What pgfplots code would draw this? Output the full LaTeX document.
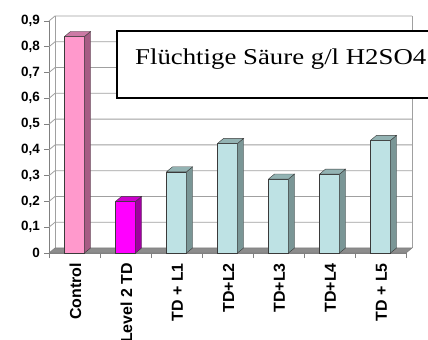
\documentclass[border=0pt]{standalone}
\usepackage{pgfplots}
\pgfplotsset{compat=1.18}
\usepackage{fontspec}
\setmainfont{Liberation Sans}
\newfontfamily\titlefont{Liberation Serif}
\definecolor{gridc}{HTML}{A0A0A0}
\definecolor{axisc}{HTML}{808080}
\definecolor{edgec}{HTML}{3A3A3A}
\definecolor{floorc}{HTML}{8C8C8C}
\definecolor{pinkF}{HTML}{FF99CC}
\definecolor{pinkS}{HTML}{A65C84}
\definecolor{pinkT}{HTML}{CC7AA5}
\definecolor{magF}{HTML}{FF00FF}
\definecolor{magS}{HTML}{A000A0}
\definecolor{magT}{HTML}{CC00CC}
\definecolor{cyF}{HTML}{BEE2E4}
\definecolor{cyS}{HTML}{7A9696}
\definecolor{cyT}{HTML}{93B3B3}
\begin{document}
\begin{tikzpicture}
\begin{axis}[
  at={(49bp,87bp)}, anchor=south west,
  scale only axis, width=357bp, height=232bp,
  xmin=-0.5, xmax=6.5, ymin=0, ymax=0.9,
  clip=false,
  axis lines*=left,
  axis line style={draw=axisc, line width=0.8bp},
  tick style={draw=axisc, line width=0.8bp},
  tick align=outside, major tick length=5bp,
  xtick={-0.5,0.5,1.5,2.5,3.5,4.5,5.5,6.5}, x tick label as interval,
  xticklabels={Control,Level 2 TD,TD + L1,TD+L2,TD+L3,TD+L4,TD + L5},
  xticklabel style={rotate=90, anchor=east, font=\bfseries\fontsize{16}{17}\selectfont, inner sep=0pt, yshift=-1bp, xshift=-5bp},
  ytick={0,0.1,0.2,0.3,0.4,0.5,0.6,0.7,0.8,0.9},
  yticklabels={0,{0,1},{0,2},{0,3},{0,4},{0,5},{0,6},{0,7},{0,8},{0,9}},
  yticklabel style={font=\bfseries\fontsize{13.5}{14}\selectfont, anchor=east, inner sep=0pt, xshift=-4bp},
]
% back wall borders
\addplot[gridc, line width=0.8bp] coordinates {(-0.382,0.0194)(-0.382,0.9194)};
\addplot[gridc, line width=0.8bp] coordinates {(6.618,0.0194)(6.618,0.9194)};
% gridlines (left wall slant + back wall)
\addplot[gridc, line width=0.8bp, unbounded coords=jump] coordinates {
(-0.5,0.1)(-0.382,0.1194)(6.618,0.1194)(6.618,nan)
(-0.5,0.2)(-0.382,0.2194)(6.618,0.2194)(6.618,nan)
(-0.5,0.3)(-0.382,0.3194)(6.618,0.3194)(6.618,nan)
(-0.5,0.4)(-0.382,0.4194)(6.618,0.4194)(6.618,nan)
(-0.5,0.5)(-0.382,0.5194)(6.618,0.5194)(6.618,nan)
(-0.5,0.6)(-0.382,0.6194)(6.618,0.6194)(6.618,nan)
(-0.5,0.7)(-0.382,0.7194)(6.618,0.7194)(6.618,nan)
(-0.5,0.8)(-0.382,0.8194)(6.618,0.8194)(6.618,nan)
(-0.5,0.9)(-0.382,0.9194)(6.618,0.9194)};
% floor
\addplot[fill=floorc, draw=axisc, line width=0.6bp] coordinates {(-0.5,0)(6.5,0)(6.618,0.0194)(-0.382,0.0194)(-0.5,0)};
% bars: front faces
\addplot[ybar, bar width=0.392, bar shift=0pt, fill=pinkF, draw=edgec, line width=0.4bp] coordinates {(0,0.84)};
\addplot[ybar, bar width=0.392, bar shift=0pt, fill=magF, draw=edgec, line width=0.4bp] coordinates {(1,0.20)};
\addplot[ybar, bar width=0.392, bar shift=0pt, fill=cyF, draw=edgec, line width=0.4bp] coordinates {(2,0.315)(3,0.425)(4,0.287)(5,0.306)(6,0.437)};
% side faces
\addplot[fill=pinkS, draw=edgec, line width=0.4bp] coordinates {(0.196,0)(0.314,0.0194)(0.314,0.8594)(0.196,0.84)(0.196,0)};
\addplot[fill=magS, draw=edgec, line width=0.4bp] coordinates {(1.196,0)(1.314,0.0194)(1.314,0.2194)(1.196,0.2)(1.196,0)};
\addplot[fill=cyS, draw=edgec, line width=0.4bp] coordinates {(2.196,0)(2.314,0.0194)(2.314,0.3344)(2.196,0.315)(2.196,0)};
\addplot[fill=cyS, draw=edgec, line width=0.4bp] coordinates {(3.196,0)(3.314,0.0194)(3.314,0.4444)(3.196,0.425)(3.196,0)};
\addplot[fill=cyS, draw=edgec, line width=0.4bp] coordinates {(4.196,0)(4.314,0.0194)(4.314,0.3064)(4.196,0.287)(4.196,0)};
\addplot[fill=cyS, draw=edgec, line width=0.4bp] coordinates {(5.196,0)(5.314,0.0194)(5.314,0.3254)(5.196,0.306)(5.196,0)};
\addplot[fill=cyS, draw=edgec, line width=0.4bp] coordinates {(6.196,0)(6.314,0.0194)(6.314,0.4564)(6.196,0.437)(6.196,0)};
% top faces
\addplot[fill=pinkT, draw=edgec, line width=0.4bp] coordinates {(-0.196,0.84)(0.196,0.84)(0.314,0.8594)(-0.078,0.8594)(-0.196,0.84)};
\addplot[fill=magT, draw=edgec, line width=0.4bp] coordinates {(0.804,0.2)(1.196,0.2)(1.314,0.2194)(0.922,0.2194)(0.804,0.2)};
\addplot[fill=cyT, draw=edgec, line width=0.4bp] coordinates {(1.804,0.315)(2.196,0.315)(2.314,0.3344)(1.922,0.3344)(1.804,0.315)};
\addplot[fill=cyT, draw=edgec, line width=0.4bp] coordinates {(2.804,0.425)(3.196,0.425)(3.314,0.4444)(2.922,0.4444)(2.804,0.425)};
\addplot[fill=cyT, draw=edgec, line width=0.4bp] coordinates {(3.804,0.287)(4.196,0.287)(4.314,0.3064)(3.922,0.3064)(3.804,0.287)};
\addplot[fill=cyT, draw=edgec, line width=0.4bp] coordinates {(4.804,0.306)(5.196,0.306)(5.314,0.3254)(4.922,0.3254)(4.804,0.306)};
\addplot[fill=cyT, draw=edgec, line width=0.4bp] coordinates {(5.804,0.437)(6.196,0.437)(6.314,0.4564)(5.922,0.4564)(5.804,0.437)};
\end{axis}
\draw[black, line width=1.3bp, fill=white] (117bp,242bp) rectangle (446bp,309bp);
\node[anchor=base west, inner sep=0pt, font=\titlefont\fontsize{22.7}{24}\selectfont] at (135bp,275bp) {\scalebox{1.185}[1]{Flüchtige Säure g/l H2SO4}};
\pgfresetboundingbox
\path[use as bounding box] (0,0) rectangle (428bp,340bp);
\end{tikzpicture}
\end{document}
